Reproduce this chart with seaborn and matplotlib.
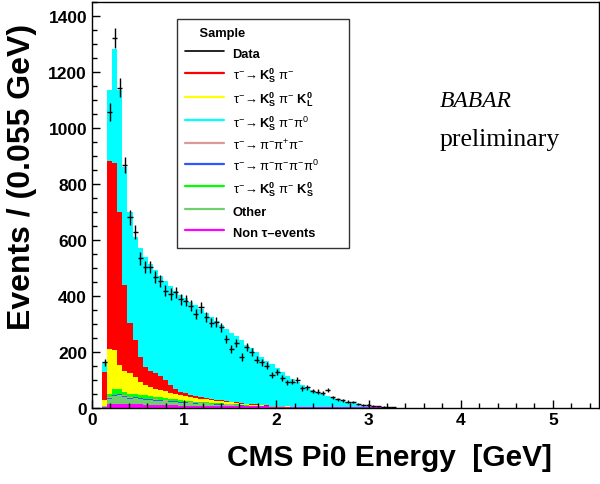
import numpy as np
import pandas as pd
import matplotlib
matplotlib.use("Agg")
import matplotlib.pyplot as plt
import seaborn as sns
from matplotlib.lines import Line2D
from matplotlib.ticker import MultipleLocator

# histogram binning: 100 bins of 0.055 GeV over 0-5.5 GeV, first filled bin starts at 0.11
bin_width = 0.055
first_edge = 0.11
n_bins = 58

def pad(values):
    return values + [0] * (n_bins - len(values))

data_counts = pad([162, 1056, 1322, 1143, 868, 680, 627, 534, 502, 502,
                   466, 454, 418, 406, 412, 388, 382, 364, 334, 358,
                   322, 304, 306, 287, 245, 209, 230, 180, 215, 199,
                   171, 162, 149, 115, 126, 106, 90, 92, 98, 69,
                   72, 58, 57, 53, 62, 36, 30, 26, 21, 19,
                   13, 10, 8, 6, 4, 3, 2, 1])

ks_pi_pi0 = pad([34, 254, 407, 436, 422, 398, 368, 390, 395, 385,
                 368, 358, 352, 353, 350, 347, 339, 332, 324, 315,
                 303, 293, 282, 270, 259, 247, 234, 224, 211, 200,
                 186, 173, 160, 148, 135, 122, 110, 99, 88, 78,
                 69, 61, 53, 46, 39, 33, 27, 22, 17, 13,
                 10, 8, 6, 4, 3, 2, 1, 1])

ks_pi = pad([100, 673, 672, 548, 310, 179, 133, 89, 66, 57,
             54, 49, 42, 28, 18, 14, 11, 9, 8, 7,
             6, 5, 5, 4, 4, 3, 3, 2, 2, 2,
             1, 1, 1])

ks_pi_kl = pad([20, 161, 138, 84, 74, 73, 59, 46, 35, 31,
                30, 27, 24, 21, 19, 17, 15, 14, 12, 11,
                10, 9, 8, 7, 6, 5, 5, 4, 4, 3,
                3, 2, 2, 2, 1, 1, 1])

ks_pi_ks = pad([1, 12, 20, 18, 12, 14, 12, 10, 12, 10,
                9, 8, 8, 7, 7, 6, 6, 5, 5, 4,
                4, 3, 3, 3, 2, 2, 2, 1, 1, 1,
                1])

three_pi = pad([0, 2, 2, 2, 2, 2, 2, 2, 2, 2,
                2, 2, 2, 2, 2, 2, 1, 1, 1, 1,
                1, 1, 1, 1, 1, 1, 1, 1])

four_pi = pad([0, 2, 2, 3, 3, 2, 2, 2, 2, 2,
               2, 2, 2, 2, 2, 1, 1, 1, 1, 1,
               1, 1, 1, 1, 1, 1, 1, 1])

other = pad([3, 20, 28, 30, 25, 20, 22, 20, 18, 18,
             16, 15, 14, 13, 12, 10, 10, 9, 8, 7,
             7, 6, 5, 5, 4, 4, 3, 3, 3, 2,
             2, 2, 1, 1, 1, 1])

non_tau = pad([2, 12, 14, 14, 13, 12, 12, 11, 10, 10,
               9, 9, 8, 8, 8, 7, 7, 7, 6, 6,
               6, 6, 5, 5, 5, 5, 5, 4, 4, 4,
               4, 4, 4, 3, 3, 3, 3, 3, 3, 3,
               3, 2, 2, 2, 2, 2, 2, 2, 2, 2,
               2, 1, 1, 1, 1, 1, 1, 1])

# seaborn stacks the first hue level on top
samples = {
    "ks_pi_pi0": (ks_pi_pi0, "#00ffff", r"$\tau^{-}\!\rightarrow \mathbf{K^{0}_{S}}\ \pi^{-}\pi^{0}$"),
    "ks_pi": (ks_pi, "#ff0000", r"$\tau^{-}\!\rightarrow \mathbf{K^{0}_{S}}\ \pi^{-}$"),
    "ks_pi_kl": (ks_pi_kl, "#ffff00", r"$\tau^{-}\!\rightarrow \mathbf{K^{0}_{S}}\ \pi^{-}\ \mathbf{K^{0}_{L}}$"),
    "ks_pi_ks": (ks_pi_ks, "#00ff00", r"$\tau^{-}\!\rightarrow \mathbf{K^{0}_{S}}\ \pi^{-}\ \mathbf{K^{0}_{S}}$"),
    "three_pi": (three_pi, "#dd9999", r"$\tau^{-}\!\rightarrow \pi^{-}\pi^{+}\pi^{-}$"),
    "four_pi": (four_pi, "#3355ff", r"$\tau^{-}\!\rightarrow \pi^{-}\pi^{-}\pi^{-}\pi^{0}$"),
    "other": (other, "#6fcf6f", "Other"),
    "non_tau": (non_tau, "#ff00ff", "Non τ–events"),
}
legend_order = ["ks_pi", "ks_pi_kl", "ks_pi_pi0", "three_pi", "four_pi",
                "ks_pi_ks", "other", "non_tau"]

centres = first_edge + bin_width * (np.arange(n_bins) + 0.5)
edges = np.linspace(0, 5.5, 101).tolist()

mc = pd.concat([pd.DataFrame({"energy": centres, "events": vals, "sample": name})
                for name, (vals, _, _) in samples.items()], ignore_index=True)
palette = {name: c for name, (_, c, _) in samples.items()}

sns.set_theme(style="ticks")
plt.rcParams["font.family"] = ["Liberation Sans", "DejaVu Sans"]
plt.rcParams["text.color"] = "black"
plt.rcParams["axes.labelcolor"] = "black"
plt.rcParams["xtick.color"] = "black"
plt.rcParams["ytick.color"] = "black"
plt.rcParams["mathtext.fontset"] = "custom"
plt.rcParams["mathtext.rm"] = "Liberation Sans"
plt.rcParams["mathtext.bf"] = "Liberation Sans:bold"
plt.rcParams["mathtext.it"] = "Liberation Sans:italic"
plt.rcParams["mathtext.default"] = "regular"

fig = plt.figure(figsize=(6, 4.85), dpi=100)
ax = fig.add_axes([0.1533, 0.1577, 0.845, 0.836])

sns.histplot(data=mc, x="energy", weights="events", hue="sample",
             hue_order=list(samples.keys()), palette=palette, multiple="stack",
             bins=edges, element="step", fill=True, alpha=1, linewidth=0,
             legend=False, ax=ax)

ax.errorbar(centres, data_counts, yerr=np.sqrt(data_counts),
            xerr=bin_width / 2, fmt="none", ecolor="black", elinewidth=1, zorder=5)

ax.set_xlim(0, 5.5)
ax.set_ylim(0, 1450)
ax.xaxis.set_major_locator(MultipleLocator(1))
ax.xaxis.set_minor_locator(MultipleLocator(0.2))
ax.yaxis.set_major_locator(MultipleLocator(200))
ax.yaxis.set_minor_locator(MultipleLocator(50))
ax.set_axisbelow(False)
ax.tick_params(which="both", direction="in", top=False, right=False,
               width=1, color="black", labelcolor="black")
ax.tick_params(which="major", length=6, labelsize=12.5, pad=3.5)
ax.tick_params(which="minor", length=3.5)
for lab in ax.get_xticklabels() + ax.get_yticklabels():
    lab.set_fontweight("bold")
for sp in ax.spines.values():
    sp.set_visible(True)
    sp.set_linewidth(1)
    sp.set_color("black")

ax.set_xlabel("CMS Pi0 Energy  [GeV]", fontsize=21.5, fontweight="bold")
ax.set_ylabel("Events / (0.055 GeV)", fontsize=23, fontweight="bold")
ax.xaxis.set_label_coords(0.586, -0.0875)
ax.yaxis.set_label_coords(-0.108, 0.570)

handles = [Line2D([], [], color="black", lw=1.2)]
labels = ["Data"]
for name in legend_order:
    handles.append(Line2D([], [], color=samples[name][1], lw=1.6))
    labels.append(samples[name][2])

leg = ax.legend(handles, labels, title="    Sample", loc="upper left",
                bbox_to_anchor=(0.1677, 0.0, 0.339, 0.958), mode="expand",
                borderaxespad=0, fontsize=9.3, title_fontsize=9.3,
                handlelength=2.95, handleheight=1.5, handletextpad=0.7,
                labelspacing=0.40, borderpad=0.65, frameon=True, fancybox=False,
                alignment="left")
leg.get_frame().set_edgecolor("black")
leg.get_frame().set_linewidth(1)
leg.get_title().set_fontweight("bold")
for t in leg.get_texts():
    if not t.get_text().startswith("$"):
        t.set_fontweight("bold")

ax.text(0.686, 0.744, "BABAR", transform=ax.transAxes, fontsize=17,
        fontstyle="italic", family="Liberation Serif")
ax.text(0.686, 0.648, "preliminary", transform=ax.transAxes, fontsize=18.5,
        family="Liberation Serif")

fig.savefig("out.png", dpi=100)
